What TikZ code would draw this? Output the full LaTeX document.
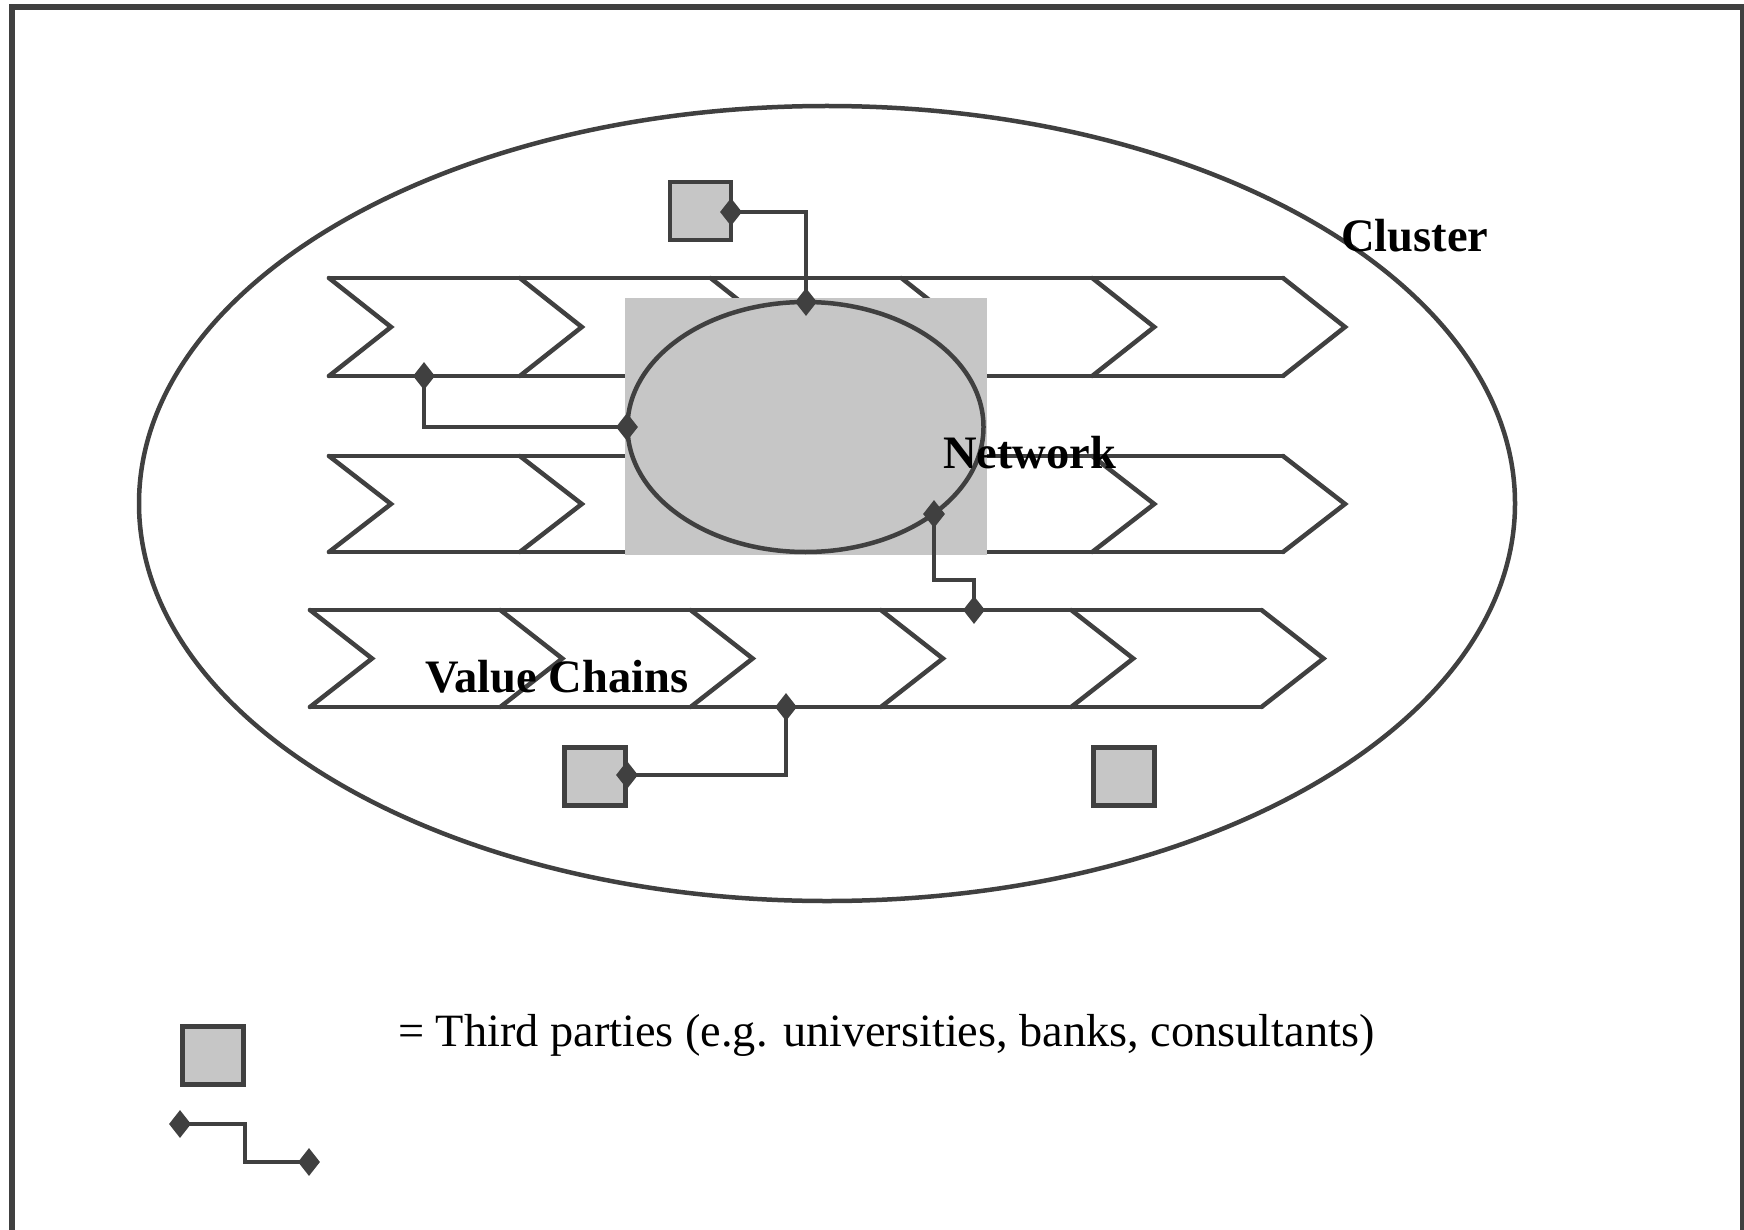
\documentclass[tikz,border=0pt]{standalone}
\usepackage{fontspec}
\setmainfont{Liberation Serif}
\usetikzlibrary{shapes.geometric}
\definecolor{ink}{HTML}{404040}
\definecolor{boxgray}{HTML}{C6C6C6}
\tikzset{
  chain/.style={draw=ink, line width=4.5pt, line cap=round, line join=miter},
  party/.style={draw=ink, fill=boxgray, line width=4.5pt, minimum width=61pt, minimum height=58pt, inner sep=0pt},
  joint/.style={diamond, fill=ink, draw=none, minimum width=22pt, minimum height=28pt, inner sep=0pt},
  link/.style={draw=ink, line width=4pt},
  boldlbl/.style={inner sep=0pt, font=\fontsize{46.5}{56}\selectfont\bfseries, text=black},
  leglbl/.style={inner sep=0pt, font=\fontsize{46.3}{56}\selectfont, text=black},
}
\begin{document}
\begin{tikzpicture}[x=1pt, y=-1pt]
\useasboundingbox (0,0) rectangle (1744,1230);
\clip (0,0) rectangle (1744,1230);
\fill[white] (0,0) rectangle (1744,1230);
% frame
\draw[ink, line width=6pt] (12,1260) -- (12,7) -- (1743,7) -- (1743,1260);
% cluster ellipse
\node[ellipse, draw=ink, line width=4.5pt, minimum width=1376pt, minimum height=795pt, inner sep=0pt] (cluster) at (827,503.5) {};
% value chains
\foreach \xo/\yt/\yb/\sp in {329/278/376/190.8, 329/456/552/190.8, 310/610/707/190.3} {
  \draw[chain] (\xo,\yt) -- ({\xo+5*\sp},\yt);
  \draw[chain] (\xo,\yb) -- ({\xo+5*\sp},\yb);
  \foreach \i in {0,...,5} {
    \draw[chain] ({\xo+\i*\sp},\yt) -- ({\xo+\i*\sp+62},{(\yt+\yb)/2}) -- ({\xo+\i*\sp},\yb);
  }
}
% network
\fill[boxgray] (625,298) rectangle (987,555);
\node[ellipse, draw=ink, line width=4.5pt, minimum width=356pt, minimum height=250pt, inner sep=0pt] (net) at (805.5,427) {};
% third parties
\node[party] (tp1) at (700.5,211) {};
\node[party] (tp2) at (595,776.5) {};
\node[party] (tp3) at (1124,776.5) {};
\node[party] (tpleg) at (213,1055.5) {};
% joints
\node[joint] (d1) at (731,212) {};
\node[joint] (d2) at (806,302) {};
\node[joint] (d3) at (424,376) {};
\node[joint] (d4) at (627,427) {};
\node[joint] (d5) at (934,514) {};
\node[joint] (d6) at (974,610) {};
\node[joint] (d7) at (786,707) {};
\node[joint] (d8) at (627,775) {};
\node[joint] (d9) at (180,1124) {};
\node[joint] (d10) at (309,1162) {};
% links
\draw[link] (d1.center) -| (d2.center);
\draw[link] (d3.center) |- (d4.center);
\draw[link] (d5.center) -- ++(0,66) -| (d6.center);
\draw[link] (d7.center) |- (d8.center);
\draw[link] (d9.center) -- ++(65,0) |- (d10.center);
% labels
\node[boldlbl, anchor=base west] (lcluster) at (1341,252) {Cluster};
\node[boldlbl, anchor=base west] (lnet) at (943,468) {Network};
\node[boldlbl, anchor=base west] (lvc) at (425,692) {Value Chains};
\node[leglbl, anchor=base west] (lleg) at (398,1046) {= Third parties (e.g. universities, banks, consultants)};
\end{tikzpicture}
\end{document}
